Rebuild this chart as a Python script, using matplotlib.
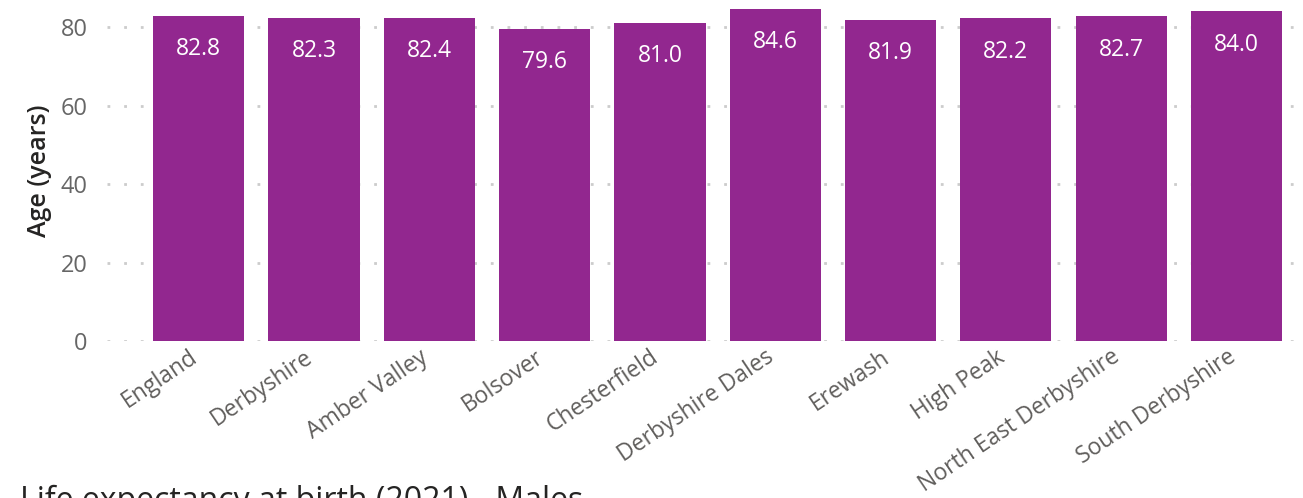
import matplotlib
matplotlib.use("Agg")
import matplotlib.pyplot as plt
import matplotlib.transforms as mtransforms

categories = ["England", "Derbyshire", "Amber Valley", "Bolsover", "Chesterfield",
              "Derbyshire Dales", "Erewash", "High Peak", "North East Derbyshire",
              "South Derbyshire"]
values = [82.8, 82.3, 82.4, 79.6, 81.0, 84.6, 81.9, 82.2, 82.7, 84.0]
yticks = [0, 20, 40, 60, 80]

plt.rcParams['font.family'] = ['Open Sans', 'DejaVu Sans']

W, H = 1303, 498
fig = plt.figure(figsize=(W / 100, H / 100), dpi=100)
ax = fig.add_axes([107 / W, 1 - 341 / H, (1300 - 107) / W, 341 / H])

x = list(range(len(categories)))
ax.bar(x, values, width=0.79, color="#92278F", zorder=2)
for xi, v in zip(x, values):
    ax.annotate(f"{v:.1f}", (xi, v), xytext=(0, -24), textcoords="offset points",
                ha="center", va="center", color="white", fontsize=16.5, zorder=3)

ax.set_ylim(0, 86.9)
ax.set_xlim(-0.795, 9.55)
ax.set_yticks(yticks)
ax.set_yticklabels([str(t) for t in yticks], color="#666666", fontsize=17)
ax.yaxis.grid(True, color="#cccccc", linestyle=(0, (1, 5)), linewidth=2, zorder=0)
ax.set_axisbelow(True)
ax.tick_params(axis="y", length=0, pad=14)
for s in ax.spines.values():
    s.set_visible(False)

ax.set_xticks(x)
ax.set_xticklabels(categories, rotation=34, ha="right", rotation_mode="anchor",
                   color="#605E5C", fontsize=16.5)
ax.tick_params(axis="x", length=0, pad=3)
offset = mtransforms.ScaledTranslation(-10 / 100, 0, fig.dpi_scale_trans)
for lbl in ax.get_xticklabels():
    lbl.set_transform(lbl.get_transform() + offset)

ax.set_ylabel("Age (years)", fontsize=18, color="#252423", fontweight="semibold",
              labelpad=6)

fig.text(20 / W, 1 - 485 / H, "Life expectancy at birth (2021) - Males",
         ha="left", va="top", fontsize=23, color="#252423")

fig.savefig("out.png", dpi=100)
